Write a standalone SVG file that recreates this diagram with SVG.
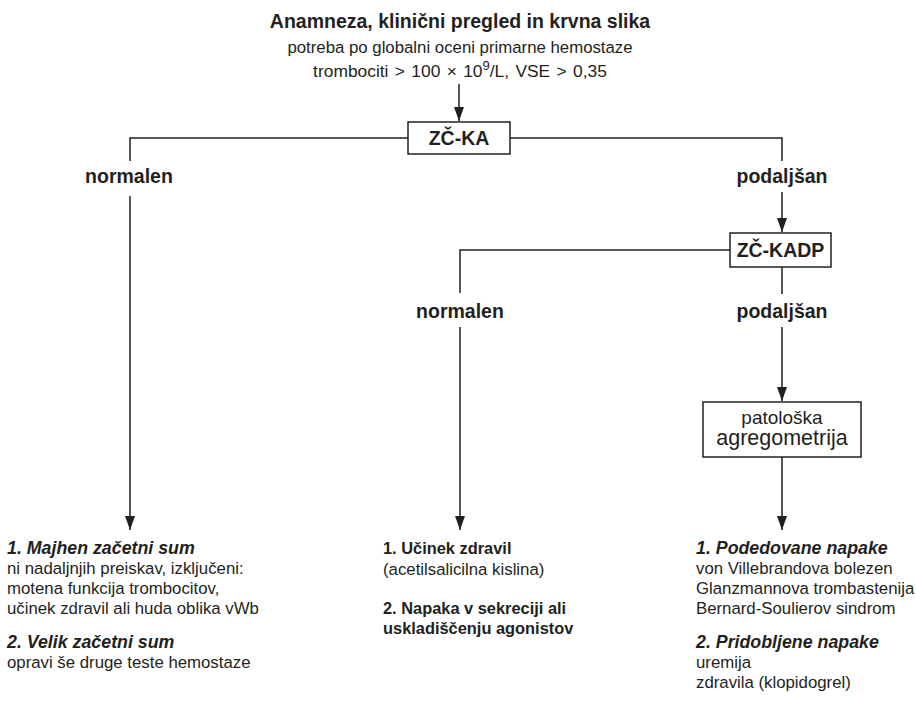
<svg xmlns="http://www.w3.org/2000/svg" width="916" height="705" viewBox="0 0 916 705">
<defs>
<marker id="ah" markerUnits="userSpaceOnUse" viewBox="0 0 14 10" refX="14" refY="5" markerWidth="14" markerHeight="10" orient="auto">
<path d="M0,0 L14,5 L0,10 z" fill="#231f20"/>
</marker>
<style>
text{font-family:"Liberation Sans",Arial,Helvetica,sans-serif;fill:#231f20}
.t{font-size:19.5px;font-weight:bold}
.lb{font-size:19.5px;font-weight:bold;text-anchor:middle}
.r{font-size:16.8px}
.c{text-anchor:middle}
.bi{font-size:17.8px;font-weight:bold;font-style:italic}
.b{font-size:16.4px;font-weight:bold}
.box{fill:#fff;stroke:#231f20;stroke-width:1.5}
.ln{fill:none;stroke:#231f20;stroke-width:1.5}
</style>
</defs>
<rect width="916" height="705" fill="#fff"/>
<g id="connectors">
<line class="ln" x1="459" y1="84" x2="459" y2="121" marker-end="url(#ah)"/>
<polyline class="ln" points="408,138 130,138 130,161"/>
<line class="ln" x1="130" y1="196" x2="130" y2="530" marker-end="url(#ah)"/>
<polyline class="ln" points="510,138 782,138 782,161"/>
<line class="ln" x1="782" y1="192" x2="782" y2="232" marker-end="url(#ah)"/>
<polyline class="ln" points="730,250 460,250 460,293"/>
<line class="ln" x1="460" y1="327" x2="460" y2="530" marker-end="url(#ah)"/>
<line class="ln" x1="782" y1="267" x2="782" y2="294"/>
<line class="ln" x1="782" y1="327" x2="782" y2="401" marker-end="url(#ah)"/>
<line class="ln" x1="782" y1="457" x2="782" y2="530" marker-end="url(#ah)"/>
</g>
<g id="header">
<text class="t c" x="460" y="28">Anamneza, klinični pregled in krvna slika</text>
<text class="r c" x="460" y="53">potreba po globalni oceni primarne hemostaze</text>
<text class="c" x="460" y="77" font-size="17.4" word-spacing="1.5">trombociti &gt; 100 × 10<tspan font-size="13" dy="-7">9</tspan><tspan dy="7">/L, VSE &gt; 0,35</tspan></text>
</g>
<g id="zcka">
<rect class="box" x="408" y="122" width="102" height="32"/>
<text class="t c" x="459" y="145">ZČ-KA</text>
</g>
<g id="label-normalen-1"><text class="lb" x="129" y="183">normalen</text></g>
<g id="label-podaljsan-1"><text class="lb" x="782" y="183">podaljšan</text></g>
<g id="zckadp">
<rect class="box" x="730" y="233" width="101" height="34"/>
<text class="t c" x="780.5" y="257">ZČ-KADP</text>
</g>
<g id="label-normalen-2"><text class="lb" x="460" y="318">normalen</text></g>
<g id="label-podaljsan-2"><text class="lb" x="782" y="318">podaljšan</text></g>
<g id="agregometrija">
<rect class="box" x="703" y="402" width="158" height="55"/>
<text class="c" x="782" y="424" font-size="19" font-weight="500">patološka</text>
<text class="c" x="782" y="445" font-size="21.5" font-weight="500">agregometrija</text>
</g>
<g id="result-left">
<text class="bi" x="7" y="554">1. Majhen začetni sum</text>
<text class="r" x="7" y="574">ni nadaljnjih preiskav, izključeni:</text>
<text class="r" x="7" y="594">motena funkcija trombocitov,</text>
<text class="r" x="7" y="614">učinek zdravil ali huda oblika vWb</text>
<text class="bi" x="7" y="648">2. Velik začetni sum</text>
<text class="r" x="7" y="668">opravi še druge teste hemostaze</text>
</g>
<g id="result-middle">
<text class="b" x="383" y="554">1. Učinek zdravil</text>
<text class="r" x="383" y="575">(acetilsalicilna kislina)</text>
<text class="b" x="383" y="614">2. Napaka v sekreciji ali</text>
<text class="b" x="383" y="634">uskladiščenju agonistov</text>
</g>
<g id="result-right">
<text class="bi" x="696" y="554">1. Podedovane napake</text>
<text class="r" x="696" y="574">von Villebrandova bolezen</text>
<text class="r" x="696" y="594">Glanzmannova trombastenija</text>
<text class="r" x="696" y="614">Bernard-Soulierov sindrom</text>
<text class="bi" x="696" y="648">2. Pridobljene napake</text>
<text class="r" x="696" y="668">uremija</text>
<text class="r" x="696" y="688">zdravila (klopidogrel)</text>
</g>
</svg>
